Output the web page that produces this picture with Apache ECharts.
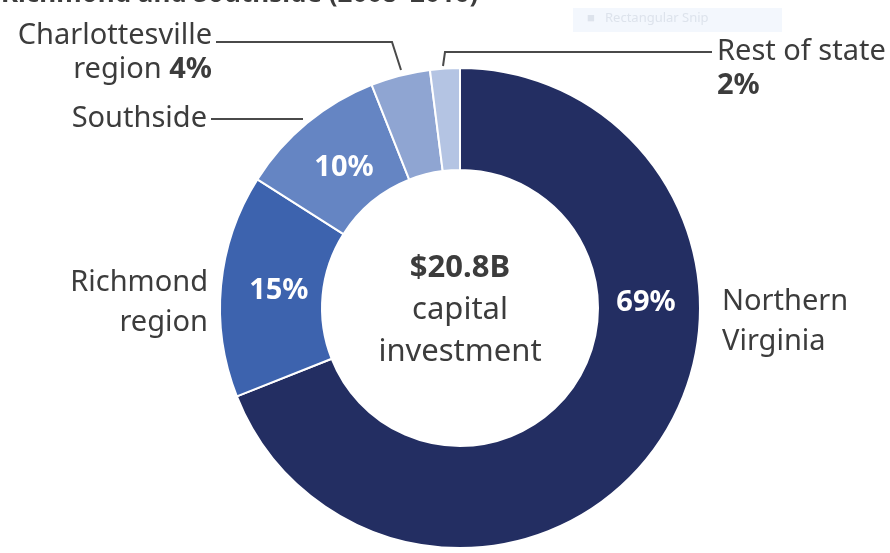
<!DOCTYPE html>
<html>
<head>
<meta charset="utf-8">
<script src="https://cdn.jsdelivr.net/npm/echarts@6/dist/echarts.min.js"></script>
<style>
html,body{margin:0;padding:0;background:#fff;}
#c{width:890px;height:553px;}
</style>
</head>
<body>
<div id="c"></div>
<script>
// ---- data ----
const categories = ['Northern Virginia', 'Richmond region', 'Southside', 'Charlottesville region', 'Rest of state'];
const shares = [69, 15, 10, 4, 2];
const pctLabels = ['69%', '15%', '10%', '', ''];
const nameLabels = ['Northern\nVirginia', 'Richmond\nregion', 'Southside', 'Charlottesville\nregion {b|4%}', 'Rest of state\n{b|2%}'];
const colors = ['#232e62', '#3d63ae', '#6585c3', '#8fa5d2', '#b4c4e3'];
const centerTitle = '$20.8B';
const centerSub = ['capital', 'investment'];
const titleText = 'Richmond and Southside (2008\u20132016)';

// ---- layout (styles/positions, not data) ----
const CX = 460, CY = 308, R_IN = 138, R_OUT = 240;
const FONT = '"Noto Sans", "Open Sans", sans-serif';
const TXT = '#3c3c3c';
const nameLayout = [
  { x: 722, y: 282, align: 'left', lh: 40 },
  { x: 208, y: 263, align: 'right', lh: 40 },
  { x: 207, y: 99, align: 'right', lh: 40, line: [[211, 119], [303, 119]] },
  { x: 212, y: 19, align: 'right', lh: 34, line: [[216, 42], [392, 42], [401, 70]] },
  { x: 717, y: 35, align: 'left', lh: 34, line: [[712, 52], [445, 52], [443, 66]] }
];
const PCT_R = 182;

const total = shares.reduce((a, b) => a + b, 0);
function midAngle(i) {
  let before = 0;
  for (let k = 0; k < i; k++) before += shares[k];
  return (before + shares[i] / 2) / total * 2 * Math.PI; // clockwise from top
}

const chart = echarts.init(document.getElementById('c'), null, { renderer: 'canvas' });

const option = {
  animation: false,
  backgroundColor: '#ffffff',
  title: {
    text: titleText,
    left: -4,
    top: -23,
    textStyle: { fontFamily: FONT, fontWeight: 'bold', fontSize: 26, color: '#3c3c3c' }
  },
  graphic: [
    {
      type: 'rect', left: 573, top: 8, silent: true,
      shape: { width: 209, height: 24 },
      style: { fill: '#f3f7fd' }
    },
    {
      type: 'text', left: 587, top: 12, silent: true,
      style: { text: '\u25A0   Rectangular Snip', fontFamily: FONT, fontSize: 13, fill: '#dde3ec' }
    },
    {
      type: 'text', x: CX, y: CY + 2, silent: true,
      style: {
        text: '{a|' + centerTitle + '}\n' + centerSub.map(s => '{b|' + s + '}').join('\n'),
        align: 'center', verticalAlign: 'middle',
        rich: {
          a: { fontFamily: FONT, fontWeight: 'bold', fontSize: 31, lineHeight: 42, fill: TXT, align: 'center' },
          b: { fontFamily: FONT, fontSize: 31, lineHeight: 42, fill: TXT, align: 'center' }
        }
      }
    }
  ],
  series: [
    {
      type: 'pie',
      center: [CX, CY],
      radius: [R_IN, R_OUT],
      startAngle: 90,
      clockwise: true,
      silent: true,
      itemStyle: { borderColor: '#ffffff', borderWidth: 2 },
      label: {
        show: true,
        position: 'inside',
        formatter: p => pctLabels[p.dataIndex],
        color: '#ffffff',
        fontFamily: FONT,
        fontWeight: 'bold',
        fontSize: 29
      },
      labelLine: { show: false },
      labelLayout: function (p) {
        const i = p.dataIndex;
        if (i === 0) {
          return { x: CX + 186, y: CY - 5, align: 'center', verticalAlign: 'middle' };
        }
        const a = midAngle(i);
        return { x: CX + PCT_R * Math.sin(a), y: CY - PCT_R * Math.cos(a), align: 'center', verticalAlign: 'middle' };
      },
      data: categories.map((c, i) => ({ name: c, value: shares[i], itemStyle: { color: colors[i] } }))
    },
    {
      type: 'pie',
      center: [CX, CY],
      radius: [R_IN, R_OUT],
      startAngle: 90,
      clockwise: true,
      silent: true,
      z: 5,
      itemStyle: { color: 'rgba(0,0,0,0)', borderWidth: 0 },
      label: {
        show: true,
        position: 'outside',
        formatter: p => nameLabels[p.dataIndex],
        color: TXT,
        fontFamily: FONT,
        fontSize: 29,
        lineHeight: 40,
        rich: {
          b: { fontFamily: FONT, fontWeight: 'bold', fontSize: 29, color: TXT }
        }
      },
      labelLine: { show: true, lineStyle: { color: '#4a4a4a', width: 2 } },
      labelLayout: function (p) {
        const L = nameLayout[p.dataIndex];
        const out = { x: L.x, y: L.y, align: L.align, verticalAlign: 'top' };
        out.labelLinePoints = L.line ? L.line : [[L.x, L.y], [L.x, L.y]];
        return out;
      },
      data: categories.map((c, i) => ({
        name: c, value: shares[i],
        label: { lineHeight: nameLayout[i].lh, rich: { b: { fontFamily: FONT, fontWeight: 'bold', fontSize: 29, color: TXT, lineHeight: nameLayout[i].lh } } },
        labelLine: { show: !!nameLayout[i].line }
      }))
    }
  ]
};
chart.setOption(option);
</script>
</body>
</html>
